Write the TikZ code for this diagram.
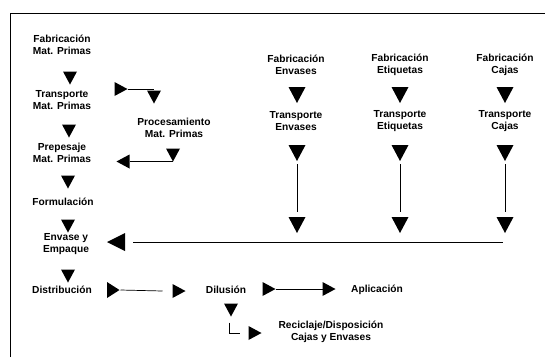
\documentclass[tikz,border=0pt]{standalone}
\usepackage{fontspec}
\setmainfont{Liberation Sans}
\usetikzlibrary{calc}
\begin{document}
\begin{tikzpicture}[x=1pt,y=-1pt,
  lbl/.style={font=\fontsize{10.2}{11.8}\selectfont\bfseries, align=center, inner sep=1pt},
  tdown/.pic={\fill (-7,-6.5) -- (7,-6.5) -- (0,6.5) -- cycle;
    \coordinate (-tip) at (0,6.5); \coordinate (-top) at (0,-6.5);},
  tdownL/.pic={\fill (-8.5,-8) -- (8.5,-8) -- (0,8) -- cycle;
    \coordinate (-tip) at (0,8); \coordinate (-top) at (0,-8);},
  tright/.pic={\fill (-6.5,-7) -- (-6.5,7) -- (6.5,0) -- cycle;
    \coordinate (-tip) at (6.5,0); \coordinate (-back) at (-6.5,0);},
  trightT/.pic={\fill (-6,-8) -- (-6,8) -- (6.5,0) -- cycle;
    \coordinate (-tip) at (6.5,0); \coordinate (-back) at (-6,0);},
  tleft/.pic={\fill (6.5,-7) -- (6.5,7) -- (-6.5,0) -- cycle;
    \coordinate (-tip) at (-6.5,0); \coordinate (-back) at (6.5,0);},
  tleftL/.pic={\fill (9,-9) -- (9,9) -- (-9,0) -- cycle;
    \coordinate (-tip) at (-9,0); \coordinate (-back) at (9,0);},
  conn/.style={line width=0.7pt},
  frame/.style={line width=0.9pt}]
\useasboundingbox (0,0) rectangle (545,357);
\draw[frame] (10,357) -- (10,13) -- (545,13);

% text nodes
\node[lbl] (fmp) at (62,45) {Fabricación\\Mat. Primas};
\node[lbl] (tmp) at (62,100) {Transporte\\Mat. Primas};
\node[lbl] (pmp) at (62,153) {Prepesaje\\Mat. Primas};
\node[lbl] (form) at (63,202) {Formulación};
\node[lbl] (env) at (66,244) {Envase y\\Empaque};
\node[lbl] (dist) at (62,290) {Distribución};
\node[lbl] (proc) at (174,128) {Procesamiento\\Mat. Primas};
\node[lbl] (fenv) at (296,65) {Fabricación\\Envases};
\node[lbl] (tenv) at (296,121) {Transporte\\Envases};
\node[lbl] (feti) at (400,65) {Fabricación\\Etiquetas};
\node[lbl] (teti) at (400,121) {Transporte\\Etiquetas};
\node[lbl] (fcaj) at (505,65) {Fabricación\\Cajas};
\node[lbl] (tcaj) at (505,121) {Transporte\\Cajas};
\node[lbl] (dil) at (226,290) {Dilusión};
\node[lbl] (apl) at (377,290) {Aplicación};
\node[lbl] (rec) at (331,332) {Reciclaje/Disposición\\Cajas y Envases};

% main column triangles
\pic (a1) at (70,78) {tdown};
\pic (a2) at (69,131) {tdown};
\pic (a3) at (68,182) {tdown};
\pic (a4) at (68,226) {tdown};
\pic (a5) at (68,276) {tdown};

% processing loop
\pic (b1) at (121,89) {tright};
\pic (b2) at (154,97) {tdown};
\draw[conn] (b1-tip) -- (b1-tip -| b2-top);
\pic (c1) at (173,155) {tdown};
\pic (c2) at (123,161.5) {tleft};
\draw[conn] (c2-back) -- (c1-tip);

% packaging columns
\foreach \n/\x in {e/297, t/400, c/505}{
  \pic (\n1) at (\x,95) {tdownL};
  \pic (\n2) at (\x,153) {tdownL};
  \pic (\n3) at (\x,225) {tdownL};
  \draw[conn] ($(\n2-tip)+(0,3)$) -- ($(\n3-top)+(0,-5)$);
}
\pic (d1) at (116,242) {tleftL};
\coordinate (hend) at (503,242);
\draw[conn] ($(d1-back)+(8,0)$) -- (hend);

% distribution
\pic (f1) at (113,290) {trightT};
\pic (f2) at (179,291) {tright};
\draw[conn] ($(f1-tip)+(1,0)$) -- ($(f2-back)+(-10,0)$);
\pic (g1) at (269,289) {tright};
\pic (g2) at (329,289) {tright};
\draw[conn] (g1-tip) -- (g2-back);
\pic (h1) at (231,310) {tdown};
\pic (h2) at (255,333) {tright};
\draw[conn] ($(h1-tip)+(-2,6)$) |- ($(h2-back)+(-9,0)$);
\end{tikzpicture}
\end{document}
